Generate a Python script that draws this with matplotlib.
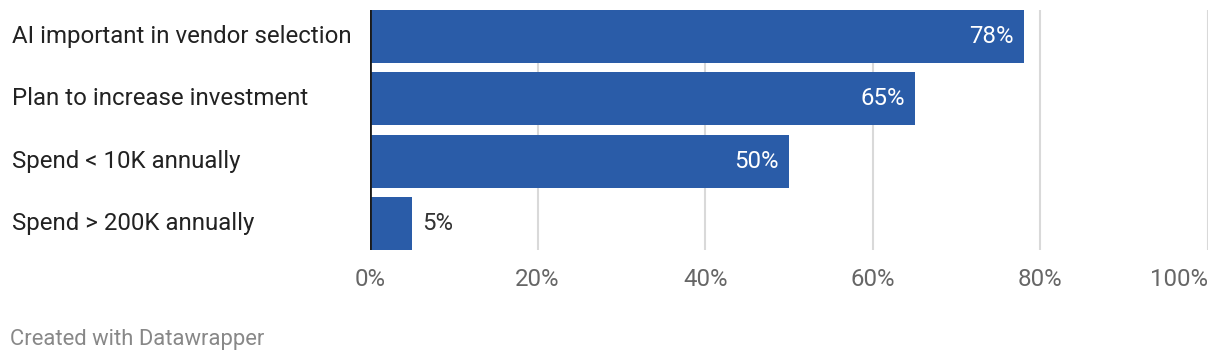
import matplotlib
matplotlib.use("Agg")
from matplotlib import pyplot as plt

plt.rcParams['font.family'] = ['Roboto', 'DejaVu Sans']

labels = ["AI important in vendor selection", "Plan to increase investment",
          "Spend < 10K annually", "Spend > 200K annually"]
values = [78, 65, 50, 5]
ticks = [0, 20, 40, 60, 80, 100]
tick_labels = ["0%", "20%", "40%", "60%", "80%", "100%"]

bar_color = "#2a5ca8"
h = 0.85
fs = 17.3

fig = plt.figure(figsize=(12.2, 3.62), dpi=100)
ax = fig.add_axes([370/1220, 1 - 250/362, (1208 - 370)/1220, 240/362])

ypos = list(range(len(values)))
ax.barh(ypos, values, height=h, color=bar_color, zorder=2)
ax.set_ylim(len(values) - 1 + h/2, -h/2)
ax.set_xlim(0, 100)

for x in ticks[1:]:
    ax.axvline(x, color="#d9d9d9", lw=1.5, zorder=1)
ax.axvline(0, color="#1a1a1a", lw=2, zorder=3)

# value labels: inside (white) for long bars, outside for short ones
for y, v in zip(ypos, values):
    if v > 15:
        ax.text(v - 1.2, y, f"{v}%", ha="right", va="center", color="white", fontsize=fs, zorder=4)
    else:
        ax.text(v + 1.2, y, f"{v}%", ha="left", va="center", color="#333333", fontsize=fs, zorder=4)

for y, lab in zip(ypos, labels):
    fig.text(12/1220, 1 - (36.5 + y*62.3)/362, lab, ha="left", va="center", fontsize=fs, color="#222222")

ax.set_xticks(ticks)
ax.set_xticklabels(tick_labels, fontsize=fs, color="#666666")
ax.get_xticklabels()[-1].set_horizontalalignment("right")
ax.tick_params(axis="x", length=0, pad=13)
ax.set_yticks([])
for s in ax.spines.values():
    s.set_visible(False)

fig.text(10/1220, 1 - 340/362, "Created with Datawrapper", ha="left", va="center", fontsize=15.8, color="#888888")

fig.savefig("out.png", dpi=100)
